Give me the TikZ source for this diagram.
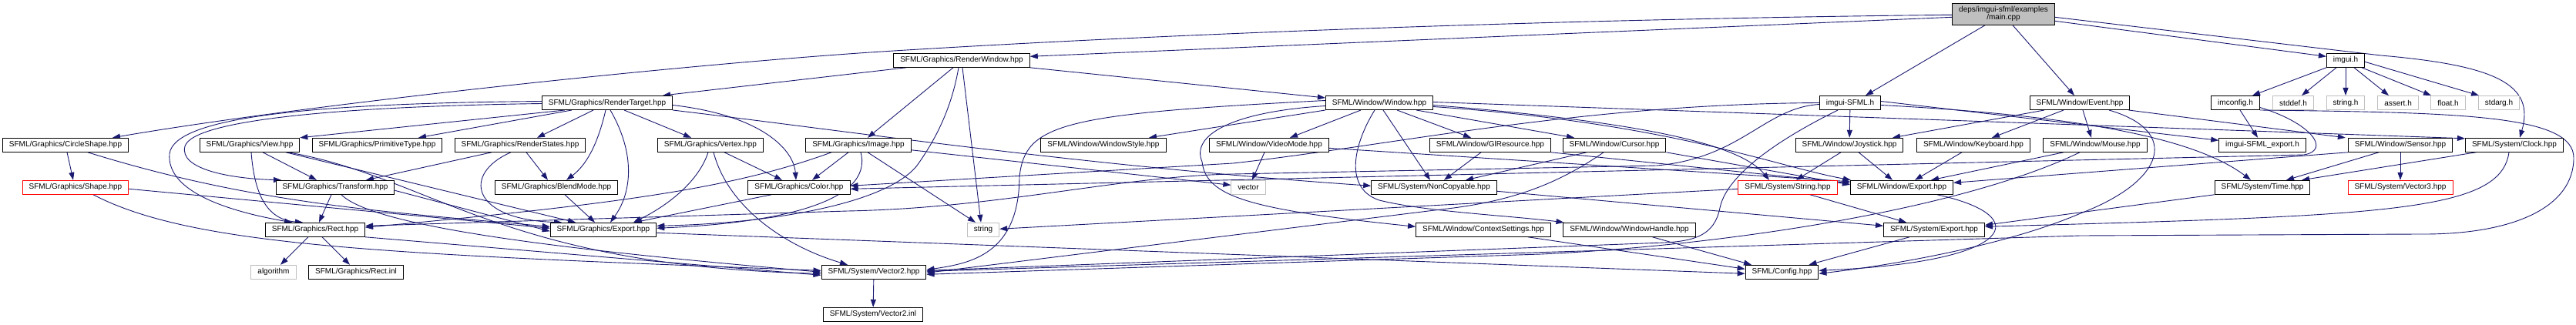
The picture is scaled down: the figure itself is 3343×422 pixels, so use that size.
\documentclass[tikz,border=0pt]{standalone}
\usepackage{fontspec}
\setmainfont{Liberation Sans}
\usetikzlibrary{arrows.meta}
\definecolor{edgecol}{RGB}{25,25,112}
\definecolor{grey75}{RGB}{191,191,191}
\pgfdeclarelayer{bg}
\pgfsetlayers{bg,main}
\tikzset{
  filebox/.style={draw=black, line width=1pt, fill=white, minimum height=18pt, inner xsep=8.5pt, inner ysep=0pt, font=\fontsize{10}{10}\selectfont},
  greybox/.style={filebox, draw=grey75},
  redbox/.style={filebox, draw=red},
  rootbox/.style={filebox, fill=grey75, minimum height=28pt, align=center},
  dep/.style={draw=edgecol, line width=0.9pt, -{Triangle[length=10pt,width=7pt]}},
}
\begin{document}
\begin{tikzpicture}[x=1pt,y=-1pt]
\useasboundingbox (0,0) rectangle (3343,422);
% row 0/1
\node[rootbox] (main) at (2600,18.3) {deps/imgui-sfml/examples\\/main.cpp};
\node[filebox] (renderwindow) at (1248,78.3) {SFML/Graphics/RenderWindow.hpp};
\node[filebox] (imguih) at (3044,78.3) {imgui.h};
% row 2
\node[filebox] (rendertarget) at (788,133.5) {SFML/Graphics/RenderTarget.hpp};
\node[filebox] (window) at (1790,133.5) {SFML/Window/Window.hpp};
\node[filebox] (imguisfml) at (2401,133.5) {imgui-SFML.h};
\node[filebox] (event) at (2699,133.5) {SFML/Window/Event.hpp};
\node[filebox] (imconfig) at (2901,133.5) {imconfig.h};
\node[greybox] (stddef) at (2976,133.5) {stddef.h};
\node[greybox] (stringh) at (3044,133.5) {string.h};
\node[greybox] (asserth) at (3112,133.5) {assert.h};
\node[greybox] (floath) at (3177,133.5) {float.h};
\node[greybox] (stdarg) at (3243,133.5) {stdarg.h};
% row 3
\node[filebox] (circleshape) at (85,188.3) {SFML/Graphics/CircleShape.hpp};
\node[filebox] (view) at (324,188.3) {SFML/Graphics/View.hpp};
\node[filebox] (primitivetype) at (489.5,188.3) {SFML/Graphics/PrimitiveType.hpp};
\node[filebox] (renderstates) at (675,188.3) {SFML/Graphics/RenderStates.hpp};
\node[filebox] (vertex) at (922,188.3) {SFML/Graphics/Vertex.hpp};
\node[filebox] (image) at (1114,188.3) {SFML/Graphics/Image.hpp};
\node[filebox] (windowstyle) at (1432,188.3) {SFML/Window/WindowStyle.hpp};
\node[filebox] (videomode) at (1647,188.3) {SFML/Window/VideoMode.hpp};
\node[filebox] (glresource) at (1934,188.3) {SFML/Window/GlResource.hpp};
\node[filebox] (cursor) at (2095,188.3) {SFML/Window/Cursor.hpp};
\node[filebox] (joystick) at (2400,188.3) {SFML/Window/Joystick.hpp};
\node[filebox] (keyboard) at (2561,188.3) {SFML/Window/Keyboard.hpp};
\node[filebox] (mouse) at (2719,188.3) {SFML/Window/Mouse.hpp};
\node[filebox] (exporth) at (2936,188.3) {imgui-SFML\_export.h};
\node[filebox] (sensor) at (3115,188.3) {SFML/Window/Sensor.hpp};
\node[filebox] (clock) at (3263,188.3) {SFML/System/Clock.hpp};
% row 4
\node[redbox] (shape) at (98,243.3) {SFML/Graphics/Shape.hpp};
\node[filebox] (transform) at (435,243.3) {SFML/Graphics/Transform.hpp};
\node[filebox] (blendmode) at (722,243.3) {SFML/Graphics/BlendMode.hpp};
\node[filebox] (color) at (1037,243.3) {SFML/Graphics/Color.hpp};
\node[greybox] (vector) at (1620,243.3) {vector};
\node[filebox] (noncopyable) at (1861,243.3) {SFML/System/NonCopyable.hpp};
\node[redbox] (string) at (2320,243.3) {SFML/System/String.hpp};
\node[filebox] (wexport) at (2468,243.3) {SFML/Window/Export.hpp};
\node[filebox] (time) at (2936,243.3) {SFML/System/Time.hpp};
\node[redbox] (vector3) at (3115,243.3) {SFML/System/Vector3.hpp};
% row 5
\node[filebox] (rect) at (409,298.3) {SFML/Graphics/Rect.hpp};
\node[filebox] (gexport) at (783,298.3) {SFML/Graphics/Export.hpp};
\node[greybox] (stdstring) at (1276,298.3) {string};
\node[filebox] (contextsettings) at (1925,298.3) {SFML/Window/ContextSettings.hpp};
\node[filebox] (windowhandle) at (2114.5,298.3) {SFML/Window/WindowHandle.hpp};
\node[filebox] (sexport) at (2510,298.3) {SFML/System/Export.hpp};
% row 6/7
\node[greybox] (algorithm) at (355,353.3) {algorithm};
\node[filebox] (rectinl) at (462,353.3) {SFML/Graphics/Rect.inl};
\node[filebox] (vector2) at (1134,353.3) {SFML/System/Vector2.hpp};
\node[filebox] (config) at (2312.5,353.3) {SFML/Config.hpp};
\node[filebox] (vector2inl) at (1133,408.3) {SFML/System/Vector2.inl};

\begin{pgfonlayer}{bg}
% main.cpp
\draw[dep] ([yshift=-4pt]main.west) -- ([yshift=5pt]renderwindow.east);
\draw[dep] ([yshift=-1pt]main.west) .. controls (2000,25) and (1500,45) .. (1160,66) .. controls (900,82) and (400,135) .. ([xshift=61pt]circleshape.north);
\draw[dep] ([xshift=-24pt]main.south) -- ([xshift=20pt]imguisfml.north);
\draw[dep] ([xshift=12pt]main.south) -- ([xshift=-7pt]event.north);
\draw[dep] ([yshift=-9pt]main.east) -- ([yshift=5pt]imguih.west);
\draw[dep] ([yshift=-4pt]main.east) -- (3090,72) .. controls (3240,85) and (3290,110) .. ([xshift=7pt]clock.north);
% RenderWindow
\draw[dep] ([xshift=-72pt]renderwindow.south) -- ([xshift=72pt]rendertarget.north);
\draw[dep] ([xshift=-11pt]renderwindow.south) -- ([xshift=12pt]image.north);
\draw[dep] ([xshift=-4pt]renderwindow.south) .. controls (1235,140) and (1215,180) .. (1190,215) .. controls (1150,265) and (1000,290) .. ([yshift=5pt]gexport.east);
\draw[dep] ([xshift=1pt]renderwindow.south) -- ([xshift=-3pt]stdstring.north);
\draw[dep] (renderwindow.south east) -- ([yshift=6.5pt]window.west);
% RenderTarget
\draw[dep] ([xshift=4pt]rendertarget.south) .. controls (825,200) and (820,250) .. ([xshift=9pt]gexport.north);
\draw[dep] ([xshift=-2pt]rendertarget.south) .. controls (775,190) and (760,215) .. ([xshift=13pt]blendmode.north);
\draw[dep] ([xshift=-18pt]rendertarget.south) -- ([xshift=22pt]renderstates.north);
\draw[dep] ([xshift=22pt]rendertarget.south) -- ([xshift=-25pt]vertex.north);
\draw[dep] ([yshift=-3pt]rendertarget.east) .. controls (990,150) and (1030,195) .. ([xshift=-4pt]color.north);
\draw[dep] (rendertarget.south east) .. controls (1100,170) and (1400,215) .. ([yshift=2pt]noncopyable.west);
\draw[dep] ([xshift=-46pt]rendertarget.south) -- ([xshift=53.5pt]primitivetype.north);
\draw[dep] ([xshift=-55pt]rendertarget.south) -- (view.north east);
\draw[dep] ([yshift=-1pt]rendertarget.west) .. controls (450,138) and (250,155) .. (240,190) .. controls (232,220) and (300,232) .. ([xshift=-70pt]transform.north);
\draw[dep] ([yshift=2pt]rendertarget.west) .. controls (420,134) and (225,150) .. (220,200) .. controls (216,250) and (300,275) .. ([xshift=-30pt]rect.north);
% CircleShape, Shape
\draw[dep] ([xshift=2pt]circleshape.south) -- ([xshift=-3pt]shape.north);
\draw[dep] ([xshift=29pt]circleshape.south) .. controls (330,265) and (500,275) .. ([yshift=4pt]gexport.west);
\draw[dep] ([yshift=-2pt]shape.east) -- ([yshift=2pt]gexport.west);
\draw[dep] ([xshift=23pt]shape.south) .. controls (250,320) and (500,330) .. ([yshift=2pt]vector2.west);
% View
\draw[dep] ([xshift=2pt]view.south) .. controls (330,250) and (345,285) .. ([xshift=-16pt]rect.north);
\draw[dep] ([xshift=17pt]view.south) -- ([xshift=-24pt]transform.north);
\draw[dep] ([xshift=47pt]view.south) -- ([xshift=-36pt]gexport.north);
\draw[dep] ([xshift=50pt]view.south) .. controls (560,230) and (650,345) .. ([yshift=-2pt]vector2.west);
% Transform
\draw[dep] ([xshift=-5pt]transform.south) -- ([xshift=5pt]rect.north);
\draw[dep] ([yshift=-4pt]transform.east) -- ([yshift=-2pt]gexport.west);
\draw[dep] ([xshift=8pt]transform.south) .. controls (490,300) and (800,330) .. (vector2.west);
% Rect
\draw[dep] ([xshift=-9pt]rect.south) -- ([xshift=9pt]algorithm.north);
\draw[dep] ([xshift=9pt]rect.south) -- ([xshift=-8pt]rectinl.north);
\draw[dep] (rect.south east) -- ([yshift=-4pt]vector2.west);
% RenderStates, BlendMode
\draw[dep] ([xshift=-12pt]renderstates.south) .. controls (600,225) and (610,285) .. ([xshift=-54pt]gexport.north);
\draw[dep] ([xshift=8pt]renderstates.south) -- ([xshift=-11pt]blendmode.north);
\draw[dep] ([xshift=-37pt]renderstates.south) -- ([xshift=40pt]transform.north);
\draw[dep] ([xshift=11pt]blendmode.south) -- ([xshift=-11pt]gexport.north);
% Vertex, Color
\draw[dep] ([xshift=18pt]vertex.south) -- ([xshift=-22pt]color.north);
\draw[dep] ([xshift=-3pt]vertex.south) .. controls (905,240) and (860,270) .. ([xshift=39pt]gexport.north);
\draw[dep] ([xshift=4pt]vertex.south) .. controls (945,270) and (1020,320) .. ([xshift=-34pt]vector2.north);
\draw[dep] ([xshift=-36pt]color.south) -- ([xshift=40pt]gexport.north);
% Image
\draw[dep] ([xshift=3pt]image.south) .. controls (1135,265) and (1000,290) .. ([yshift=2pt]gexport.east);
\draw[dep] ([xshift=-13pt]image.south) -- ([xshift=17pt]color.north);
\draw[dep] ([xshift=-35pt]image.south) .. controls (950,245) and (800,265) .. ([yshift=3pt]rect.east);
\draw[dep] ([xshift=12pt]image.south) -- ([xshift=-10pt]stdstring.north);
\draw[dep] ([yshift=3pt]image.south east) -- ([yshift=3pt]vector.west);
% Vector2
\draw[dep] (vector2) -- (vector2inl);
% Window
\draw[dep] (window.south west) -- ([xshift=59pt]windowstyle.north);
\draw[dep] ([xshift=-24pt]window.south) -- ([xshift=27pt]videomode.north);
\draw[dep] ([xshift=23pt]window.south) -- ([xshift=-25pt]glresource.north);
\draw[dep] ([xshift=48pt]window.south) -- ([xshift=-52pt]cursor.north);
\draw[dep] ([xshift=5pt]window.south) -- ([xshift=-5pt]noncopyable.north);
\draw[dep] ([yshift=-4pt]window.west) .. controls (1600,145) and (1545,175) .. (1560,210) .. controls (1565,255) and (1620,272) .. ([yshift=4pt]contextsettings.west);
\draw[dep] ([xshift=-6pt]window.south) .. controls (1755,190) and (1745,245) .. (1790,260) .. controls (1850,275) and (1960,280) .. ([xshift=-85pt]windowhandle.north);
\draw[dep] ([yshift=3pt]window.west) .. controls (1380,148) and (1330,160) .. (1323,230) .. controls (1322,330) and (1260,342) .. ([yshift=3pt]vector2.east);
\draw[dep] ([yshift=-3pt]window.east) .. controls (2150,160) and (2260,190) .. ([xshift=-24pt]string.north);
\draw[dep] ([yshift=-5pt]window.east) .. controls (2170,160) and (2300,215) .. ([xshift=1pt]wexport.north west);
\draw[dep] ([yshift=1pt]window.east) -- ([yshift=-1pt]clock.north west);
% VideoMode, GlResource, Cursor
\draw[dep] ([xshift=-6pt]videomode.south) -- ([xshift=5pt]vector.north);
\draw[dep] ([yshift=-4pt]videomode.east) -- ([yshift=-2pt]wexport.north west);
\draw[dep] ([xshift=-12pt]glresource.south) -- ([xshift=13pt]noncopyable.north);
\draw[dep] (glresource.south east) -- ([yshift=-4pt]wexport.north west);
\draw[dep] ([xshift=-36pt]cursor.south) -- ([xshift=41pt]noncopyable.north);
\draw[dep] ([xshift=-14pt]cursor.south) .. controls (2020,240) and (1960,262) .. (1870,272) -- ([yshift=-1pt]vector2.east);
\draw[dep] (cursor.south east) -- ([yshift=-6pt]wexport.north west);
% NonCopyable, ContextSettings, WindowHandle
\draw[dep] ([yshift=-5pt]noncopyable.east) -- ([yshift=5pt]sexport.west);
\draw[dep] ([xshift=58pt]contextsettings.south) -- ([yshift=4pt]config.west);
\draw[dep] ([xshift=30pt]windowhandle.south) -- ([xshift=-39.5pt]config.north);
% Exports
\draw[dep] ([yshift=-4pt]gexport.east) -- ([yshift=-2pt]config.west);
\draw[dep] ([xshift=-32pt]sexport.south) -- ([xshift=35pt]config.north);
\draw[dep] ([xshift=46pt]wexport.south) .. controls (2640,280) and (2620,340) .. ([yshift=2pt]config.east);
% Event
\draw[dep] ([xshift=38pt]event.south) .. controls (2830,170) and (2810,235) .. (2700,277) .. controls (2600,320) and (2450,345) .. ([yshift=-2pt]config.east);
\draw[dep] ([xshift=-46pt]event.south) -- ([xshift=56pt]joystick.north);
\draw[dep] ([xshift=-21pt]event.south) -- ([xshift=24pt]keyboard.north);
\draw[dep] ([xshift=4pt]event.south) -- ([xshift=-5pt]mouse.north);
\draw[dep] ([xshift=-2pt]event.south east) -- ([xshift=-3pt]sensor.north west);
% Joystick, Keyboard, Mouse
\draw[dep] ([xshift=12pt]joystick.south) -- ([xshift=-12pt]wexport.north);
\draw[dep] ([xshift=-11pt]joystick.south) -- ([xshift=11pt]string.north);
\draw[dep] ([xshift=-15pt]keyboard.south) -- ([xshift=17pt]wexport.north);
\draw[dep] ([xshift=-41pt]mouse.south) -- ([xshift=38pt]wexport.north);
\draw[dep] ([xshift=-20pt]mouse.south) .. controls (2550,270) and (2250,318) .. (2000,330) -- ([yshift=-3pt]vector2.east);
% imgui.h
\draw[dep] ([xshift=-25pt]imguih.south) -- ([xshift=22pt]imconfig.north);
\draw[dep] ([xshift=-12pt]imguih.south) -- ([xshift=11pt]stddef.north);
\draw[dep] (imguih) -- (stringh);
\draw[dep] ([xshift=11pt]imguih.south) -- ([xshift=-12pt]asserth.north);
\draw[dep] ([xshift=21pt]imguih.south) -- ([xshift=-22pt]floath.north);
\draw[dep] ([yshift=-2pt]imguih.east) -- ([xshift=-26pt]stdarg.north);
% imconfig.h
\draw[dep] ([xshift=6pt]imconfig.south) -- ([xshift=-6pt]exporth.north);
\draw[dep] ([yshift=-6pt]imconfig.east) .. controls (3000,160) and (3025,195) .. (2990,201) -- ([yshift=-2pt]color.east);
\draw[dep] (imconfig.south east) .. controls (3200,146) and (3340,150) .. (3340,205) .. controls (3340,270) and (3260,305) .. (3140,304) -- (2700,306) -- ([yshift=1pt]vector2.east);
% Sensor, Clock, Time, String
\draw[dep] (sensor.south west) -- ([yshift=6pt]wexport.east);
\draw[dep] (sensor) -- (vector3);
\draw[dep] ([xshift=-28pt]sensor.south) -- ([xshift=31pt]time.north);
\draw[dep] ([xshift=-50pt]clock.south) -- ([xshift=51pt]time.north);
\draw[dep] ([xshift=-7pt]clock.south) .. controls (3245,275) and (3100,280) .. ([yshift=4pt]sexport.east);
\draw[dep] (time.south west) -- ([yshift=6pt]sexport.east);
\draw[dep] ([xshift=29pt]string.south) -- ([xshift=-36pt]sexport.north);
\draw[dep] ([yshift=-2pt]string.west) -- ([yshift=1pt]stdstring.east);
% imgui-SFML.h
\draw[dep] (imguisfml) -- (joystick);
\draw[dep] ([yshift=2pt]imguisfml.east) -- ([yshift=6pt]exporth.west);
\draw[dep] ([yshift=-3pt]imguisfml.east) .. controls (2700,150) and (2850,180) .. ([xshift=-15pt]time.north);
\draw[dep] ([xshift=-16pt]imguisfml.south) .. controls (2300,185) and (2240,230) .. (2232,270) .. controls (2225,305) and (2200,313) .. (2160,315) -- ([yshift=2pt]vector2.east);
\draw[dep] (imguisfml.west) .. controls (2050,135) and (1800,190) .. (1600,212) -- ([yshift=2pt]color.east);
\draw[dep] ([yshift=-2pt]imguisfml.west) .. controls (2290,140) and (2260,205) .. (2150,215) -- (1600,226) .. controls (1450,229) and (1300,270) .. (1100,274) -- ([yshift=5pt]rect.east);
\end{pgfonlayer}
\end{tikzpicture}
\end{document}
